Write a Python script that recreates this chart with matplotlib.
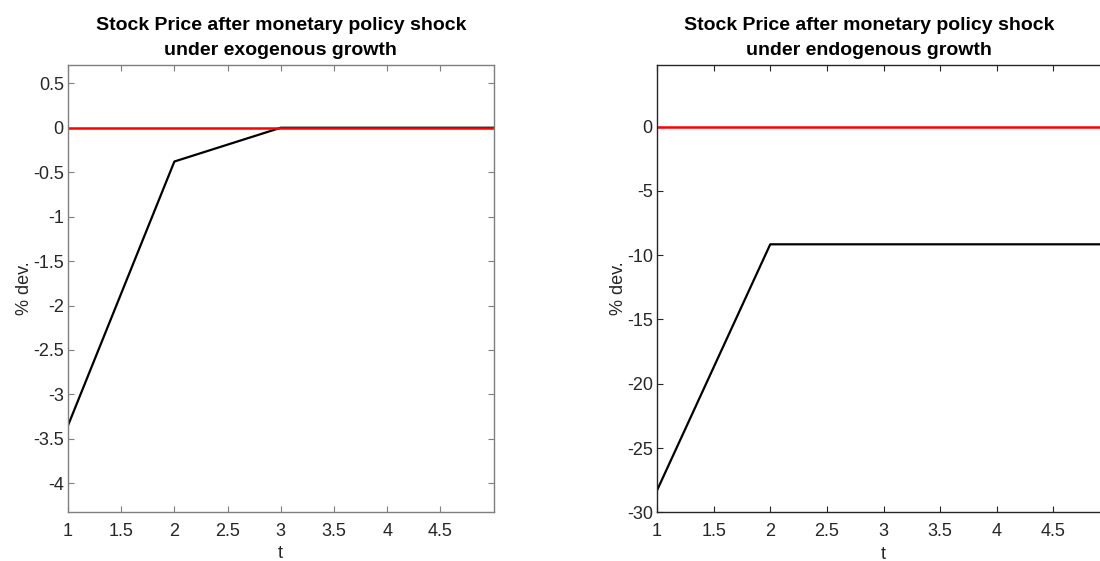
import matplotlib
matplotlib.use("Agg")
import matplotlib.pyplot as plt
import numpy as np

plt.rcParams['font.family'] = ['Liberation Sans', 'DejaVu Sans']

t = [1, 2, 3, 4, 5]
exo_price = [-3.35, -0.38, 0.0, 0.0, 0.0]
endo_price = [-28.3, -9.15, -9.15, -9.15, -9.15]
zero_line = [0, 0, 0, 0, 0]

titles = ["Stock Price after monetary policy shock\nunder exogenous growth",
          "Stock Price after monetary policy shock\nunder endogenous growth"]
xticks = [1, 1.5, 2, 2.5, 3, 3.5, 4, 4.5]
xticklabels = ["1", "1.5", "2", "2.5", "3", "3.5", "4", "4.5"]
yticks_left = [-4, -3.5, -3, -2.5, -2, -1.5, -1, -0.5, 0, 0.5]
yticks_right = [-30, -25, -20, -15, -10, -5, 0]

W, H = 1100, 561
fig = plt.figure(figsize=(W / 100, H / 100), dpi=100)

def px_axes(x0, y0, x1, y1):
    return fig.add_axes([x0 / W, 1 - y1 / H, (x1 - x0) / W, (y1 - y0) / H])

ax1 = px_axes(68, 65, 493.5, 511.7)
ax2 = px_axes(657, 65, 1110, 512.3)

def style(ax, spine_color):
    for s in ax.spines.values():
        s.set_color(spine_color)
        s.set_linewidth(1.0)
    ax.tick_params(direction='in', length=4, width=0.8, top=True, right=True,
                   colors=spine_color, labelcolor='#262626', labelsize=13, pad=3)
    ax.tick_params(axis='x', pad=8)
    ax.set_xlabel('t', fontsize=13, color='#262626', labelpad=4)
    ax.set_ylabel('% dev.', fontsize=13, color='#262626', labelpad=0)

for ax, y, ttl, yt, ylim, sc in [
        (ax1, exo_price, titles[0], yticks_left, (-4.32, 0.706), '#7f7f7f'),
        (ax2, endo_price, titles[1], yticks_right, (-30, 4.8), '#262626')]:
    ax.plot(t, y, color='black', lw=1.6)
    ax.plot(t, zero_line, color='red', lw=1.8)
    ax.set_xlim(1, 5)
    ax.set_ylim(*ylim)
    ax.set_xticks(xticks)
    ax.set_xticklabels(xticklabels)
    ax.set_yticks(yt)
    ax.set_yticklabels([f"{v:g}" for v in yt])
    style(ax, sc)

ax1.set_title(titles[0], fontsize=14, fontweight='bold', pad=7, linespacing=1.62,
              color='black')
ax2.set_title(titles[1], fontsize=14, fontweight='bold', pad=7, linespacing=1.62,
              color='black', x=(869 - 657) / (1110 - 657))

fig.savefig('out.png', dpi=100)
